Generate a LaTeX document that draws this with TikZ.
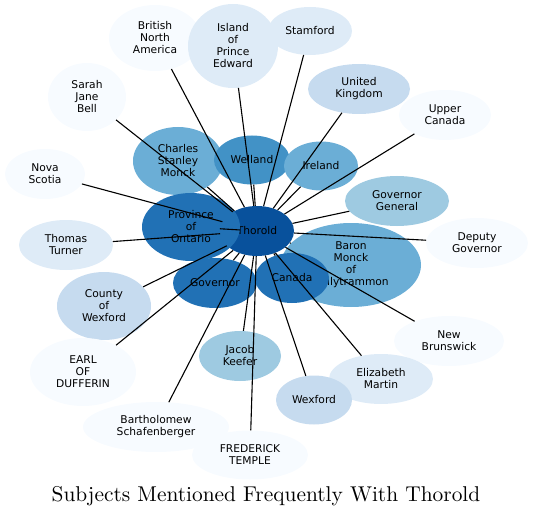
\documentclass[tikz,border=0pt]{standalone}
\usepackage{fontspec}
\usetikzlibrary{shapes.geometric}
\newfontfamily\dejavu{DejaVu Sans}
\newfontfamily\titlefont[Extension=.otf]{lmroman10-regular}

\definecolor{blueA}{HTML}{08519C}
\definecolor{blueB}{HTML}{2171B5}
\definecolor{blueC}{HTML}{4292C6}
\definecolor{blueD}{HTML}{6BAED6}
\definecolor{blueE}{HTML}{9ECAE1}
\definecolor{blueF}{HTML}{C6DBEF}
\definecolor{blueG}{HTML}{DEEBF7}
\definecolor{blueH}{HTML}{F7FBFF}

\begin{document}
\begin{tikzpicture}[x=1pt, y=-1pt,
    bub/.style={ellipse, inner sep=0pt, align=center,
        font=\dejavu\fontsize{10.7}{12}\selectfont},
    link/.style={black, line width=1.1pt}]
        \useasboundingbox (0,0) rectangle (533,516);

        \node[bub, fill=blueA, minimum width=74pt, minimum height=50pt] (thorold) at (257,231) {Thorold};

        \node[bub, fill=blueH, minimum width=92pt, minimum height=66pt] (bna) at (155,38) {British\\North\\America};
        \node[bub, fill=blueG, minimum width=84pt, minimum height=48pt] (stamford) at (310,31) {Stamford};
        \node[bub, fill=blueG, minimum width=90pt, minimum height=84pt] (ipe) at (233,46) {Island\\of\\Prince\\Edward};
        \node[bub, fill=blueH, minimum width=78pt, minimum height=68pt] (sarah) at (87,97) {Sarah\\Jane\\Bell};
        \node[bub, fill=blueF, minimum width=102pt, minimum height=50pt] (uk) at (359,89) {United\\Kingdom};
        \node[bub, fill=blueH, minimum width=92pt, minimum height=50pt] (upper) at (445,115) {Upper\\Canada};
        \node[bub, fill=blueD, minimum width=90pt, minimum height=68pt] (monck) at (178,161) {Charles\\Stanley\\Monck};
        \node[bub, fill=blueC, minimum width=76pt, minimum height=49pt] (welland) at (252,160) {Welland};
        \node[bub, fill=blueD, minimum width=74pt, minimum height=49pt] (ireland) at (321,166) {Ireland};
        \node[bub, fill=blueH, minimum width=80pt, minimum height=50pt] (nova) at (45,174) {Nova\\Scotia};
        \node[bub, fill=blueE, minimum width=104pt, minimum height=50pt] (gg) at (397,201) {Governor\\General};
        \node[bub, fill=blueB, minimum width=98pt, minimum height=68pt] (ontario) at (191,227) {Province\\of\\Ontario};
        \node[bub, fill=blueG, minimum width=94pt, minimum height=50pt] (turner) at (66,245) {Thomas\\Turner};
        \node[bub, fill=blueD, minimum width=140pt, minimum height=84pt] (baron) at (351,265) {Baron\\Monck\\of\\Ballytrammon};
        \node[bub, fill=blueB, minimum width=74pt, minimum height=50pt] (canada) at (292,278) {Canada};
        \node[bub, fill=blueH, minimum width=102pt, minimum height=50pt] (deputy) at (477,243) {Deputy\\Governor};
        \node[bub, fill=blueB, minimum width=84pt, minimum height=50pt] (governor) at (215,283) {Governor};
        \node[bub, fill=blueF, minimum width=94pt, minimum height=68pt] (county) at (104,306) {County\\of\\Wexford};
        \node[bub, fill=blueH, minimum width=106pt, minimum height=68pt] (earl) at (83,372) {EARL\\OF\\DUFFERIN};
        \node[bub, fill=blueE, minimum width=82pt, minimum height=50pt] (keefer) at (240,356) {Jacob\\Keefer};
        \node[bub, fill=blueH, minimum width=110pt, minimum height=50pt] (brunswick) at (449,341) {New\\Brunswick};
        \node[bub, fill=blueG, minimum width=104pt, minimum height=50pt] (martin) at (381,379) {Elizabeth\\Martin};
        \node[bub, fill=blueF, minimum width=76pt, minimum height=49pt] (wexford) at (314,400) {Wexford};
        \node[bub, fill=blueH, minimum width=146pt, minimum height=50pt] (bart) at (156,427) {Bartholomew\\Schafenberger};
        \node[bub, fill=blueH, minimum width=116pt, minimum height=49pt] (temple) at (250,455) {FREDERICK\\TEMPLE};

        % every subject is linked to Thorold
        \foreach \n in {bna, stamford, ipe, sarah, uk, upper, monck, welland, ireland, nova, gg,
                ontario, turner, baron, canada, deputy, governor, county, earl, keefer,
                brunswick, martin, wexford, bart, temple}
            \draw[link] (thorold) -- (\n);

        \node[anchor=base, font=\titlefont\fontsize{21.4}{25}\selectfont] (title) at (266,501) {Subjects Mentioned Frequently With Thorold};
    \end{tikzpicture}
\end{document}
